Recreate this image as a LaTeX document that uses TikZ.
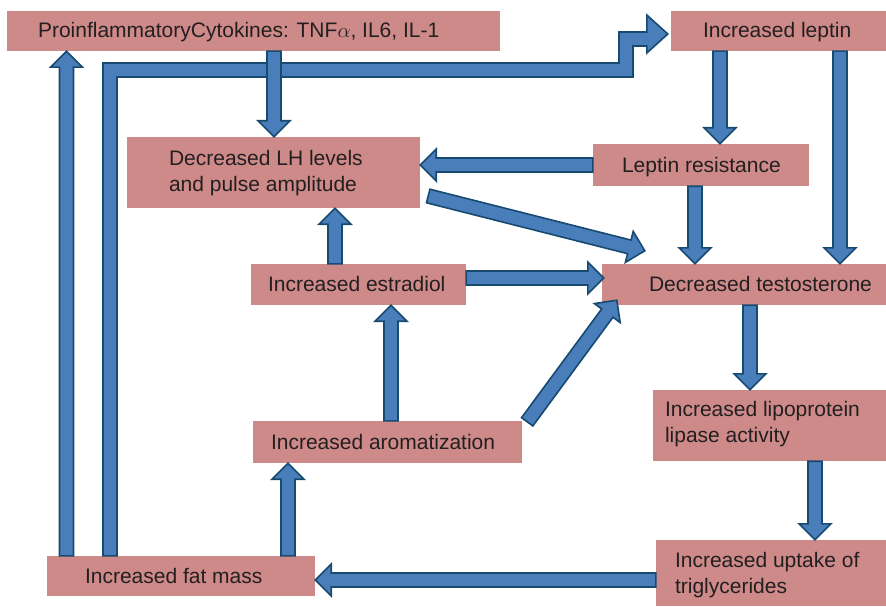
\documentclass[tikz,border=0pt]{standalone}
\usepackage{fontspec}
\setmainfont{Liberation Sans}
\usetikzlibrary{calc}
\definecolor{boxfill}{HTML}{CE8A89}
\definecolor{arrfill}{HTML}{4A7EBB}
\definecolor{arrline}{HTML}{174A70}
\definecolor{txtcol}{HTML}{231F20}
\tikzset{
  box/.style={fill=boxfill, draw=none, inner sep=0pt, rectangle},
  txt/.style={anchor=west, align=left, inner sep=0pt, text=txtcol,
    font=\fontsize{21}{26}\selectfont, text height=15pt, text depth=3pt},
  txttwo/.style={anchor=base west, align=left, inner sep=0pt, text=txtcol,
    font=\fontsize{21}{26}\selectfont},
  arrowstyle/.style={fill=arrfill, draw=arrline, line width=1.6pt, line join=miter}
}
\newcommand\blockarrow[2]{%
  \coordinate (ba-a) at #1;
  \coordinate (ba-b) at #2;
  \coordinate (ba-h) at ($(ba-b)!16pt!(ba-a)$);
  \filldraw[arrowstyle] ($(ba-a)!7pt!90:(ba-b)$) -- ($(ba-h)!7pt!90:(ba-b)$)
    -- ($(ba-h)!16pt!90:(ba-b)$) -- (ba-b) -- ($(ba-h)!16pt!-90:(ba-b)$)
    -- ($(ba-h)!7pt!-90:(ba-b)$) -- ($(ba-a)!7pt!-90:(ba-b)$) -- cycle;}
\begin{document}
\begin{tikzpicture}[x=1pt, y=-1pt]
\useasboundingbox (0,0) rectangle (886,607);
% boxes
\node[box, minimum width=493pt, minimum height=40pt] (cyto) at (253.5,31) {};
\node[box, minimum width=215pt, minimum height=40pt] (lep) at (778.5,31) {};
\node[box, minimum width=293pt, minimum height=71pt] (lh) at (273.5,172.5) {};
\node[box, minimum width=216pt, minimum height=42pt] (lr) at (701,165) {};
\node[box, minimum width=215pt, minimum height=41pt] (est) at (358.5,284.5) {};
\node[box, minimum width=284pt, minimum height=41pt] (tes) at (744,284.5) {};
\node[box, minimum width=269pt, minimum height=42pt] (aro) at (387.5,442) {};
\node[box, minimum width=233pt, minimum height=71pt] (lpl) at (769.5,425.5) {};
\node[box, minimum width=230pt, minimum height=66pt] (upt) at (771,573) {};
\node[box, minimum width=268pt, minimum height=40pt] (fat) at (181,576) {};
% texts
\node[txt] (cyto-t) at ($(cyto.west)+(31,1)$) {ProinflammatoryCytokines: TNF$\alpha$, IL6, IL-1};
\node[txt] (lep-t) at ($(lep.west)+(32,1)$) {Increased leptin};
\node[txttwo] (lh-t) at ($(lh.north west)+(42,55)$) {Decreased LH levels\\and pulse amplitude};
\node[txt] (lr-t) at ($(lr.west)+(29,1)$) {Leptin resistance};
\node[txt] (est-t) at ($(est.west)+(17,1)$) {Increased estradiol};
\node[txt] (tes-t) at ($(tes.west)+(47,1)$) {Decreased testosterone};
\node[txt] (aro-t) at ($(aro.west)+(18,1)$) {Increased aromatization};
\node[txttwo] (lpl-t) at ($(lpl.north west)+(12,53)$) {Increased lipoprotein\\lipase activity};
\node[txttwo] (upt-t) at ($(upt.north west)+(19,54)$) {Increased uptake of\\triglycerides};
\node[txt] (fat-t) at ($(fat.west)+(38,1)$) {Increased fat mass};
% bent arrow fat mass -> increased leptin
\coordinate (bA) at (fat.north -| 110,0);
\coordinate (bB) at (110,70);
\coordinate (bC) at (626,70);
\coordinate (bD) at (626,39);
\coordinate (bE) at (lep.west |- 0,34);
\filldraw[arrowstyle] ($(bA)+(-7,0)$) -- ($(bB)+(-7,-7)$) -- ($(bC)+(-7,-7)$)
  -- ($(bD)+(-7,-7)$) -- ($(bE)+(-24,-2)$) -- ($(bE)+(-24,-19)$) -- ($(bE)+(-3,0)$)
  -- ($(bE)+(-24,19)$) -- ($(bE)+(-24,12)$) -- ($(bD)+(7,7)$) -- ($(bC)+(7,7)$)
  -- ($(bB)+(7,7)$) -- ($(bA)+(7,0)$) -- cycle;
% straight arrows
\blockarrow{(fat.north -| 66.5,0)}{(cyto.south -| 66.5,0)}
\blockarrow{(cyto.south -| 274,0)}{(lh.north -| 274,0)}
\blockarrow{(lep.south -| 720,0)}{(lr.north -| 720,0)}
\blockarrow{(lep.south -| 840,0)}{(tes.north -| 840,0)}
\blockarrow{(lr.west)}{(lh.east |- lr.west)}
\blockarrow{($(lh.east)+(8,23.5)$)}{($(tes.north west)+(43,-13)$)}
\blockarrow{(lr.south -| 695,0)}{(tes.north -| 695,0)}
\blockarrow{($(est.east)+(0,-6.5)$)}{($(tes.west)+(2,-6.5)$)}
\blockarrow{(est.north -| 335,0)}{(lh.south -| 335,0)}
\blockarrow{(aro.north -| 391,0)}{(est.south -| 391,0)}
\blockarrow{($(aro.north east)+(5,1)$)}{($(tes.south west)+(15,-5)$)}
\blockarrow{(fat.north -| 288,0)}{(aro.south -| 288,0)}
\blockarrow{(tes.south -| 750,0)}{(lpl.north -| 750,0)}
\blockarrow{(lpl.south -| 815,0)}{(upt.north -| 815,0)}
\blockarrow{(upt.west |- 0,580)}{(fat.east |- 0,580)}
\end{tikzpicture}
\end{document}
